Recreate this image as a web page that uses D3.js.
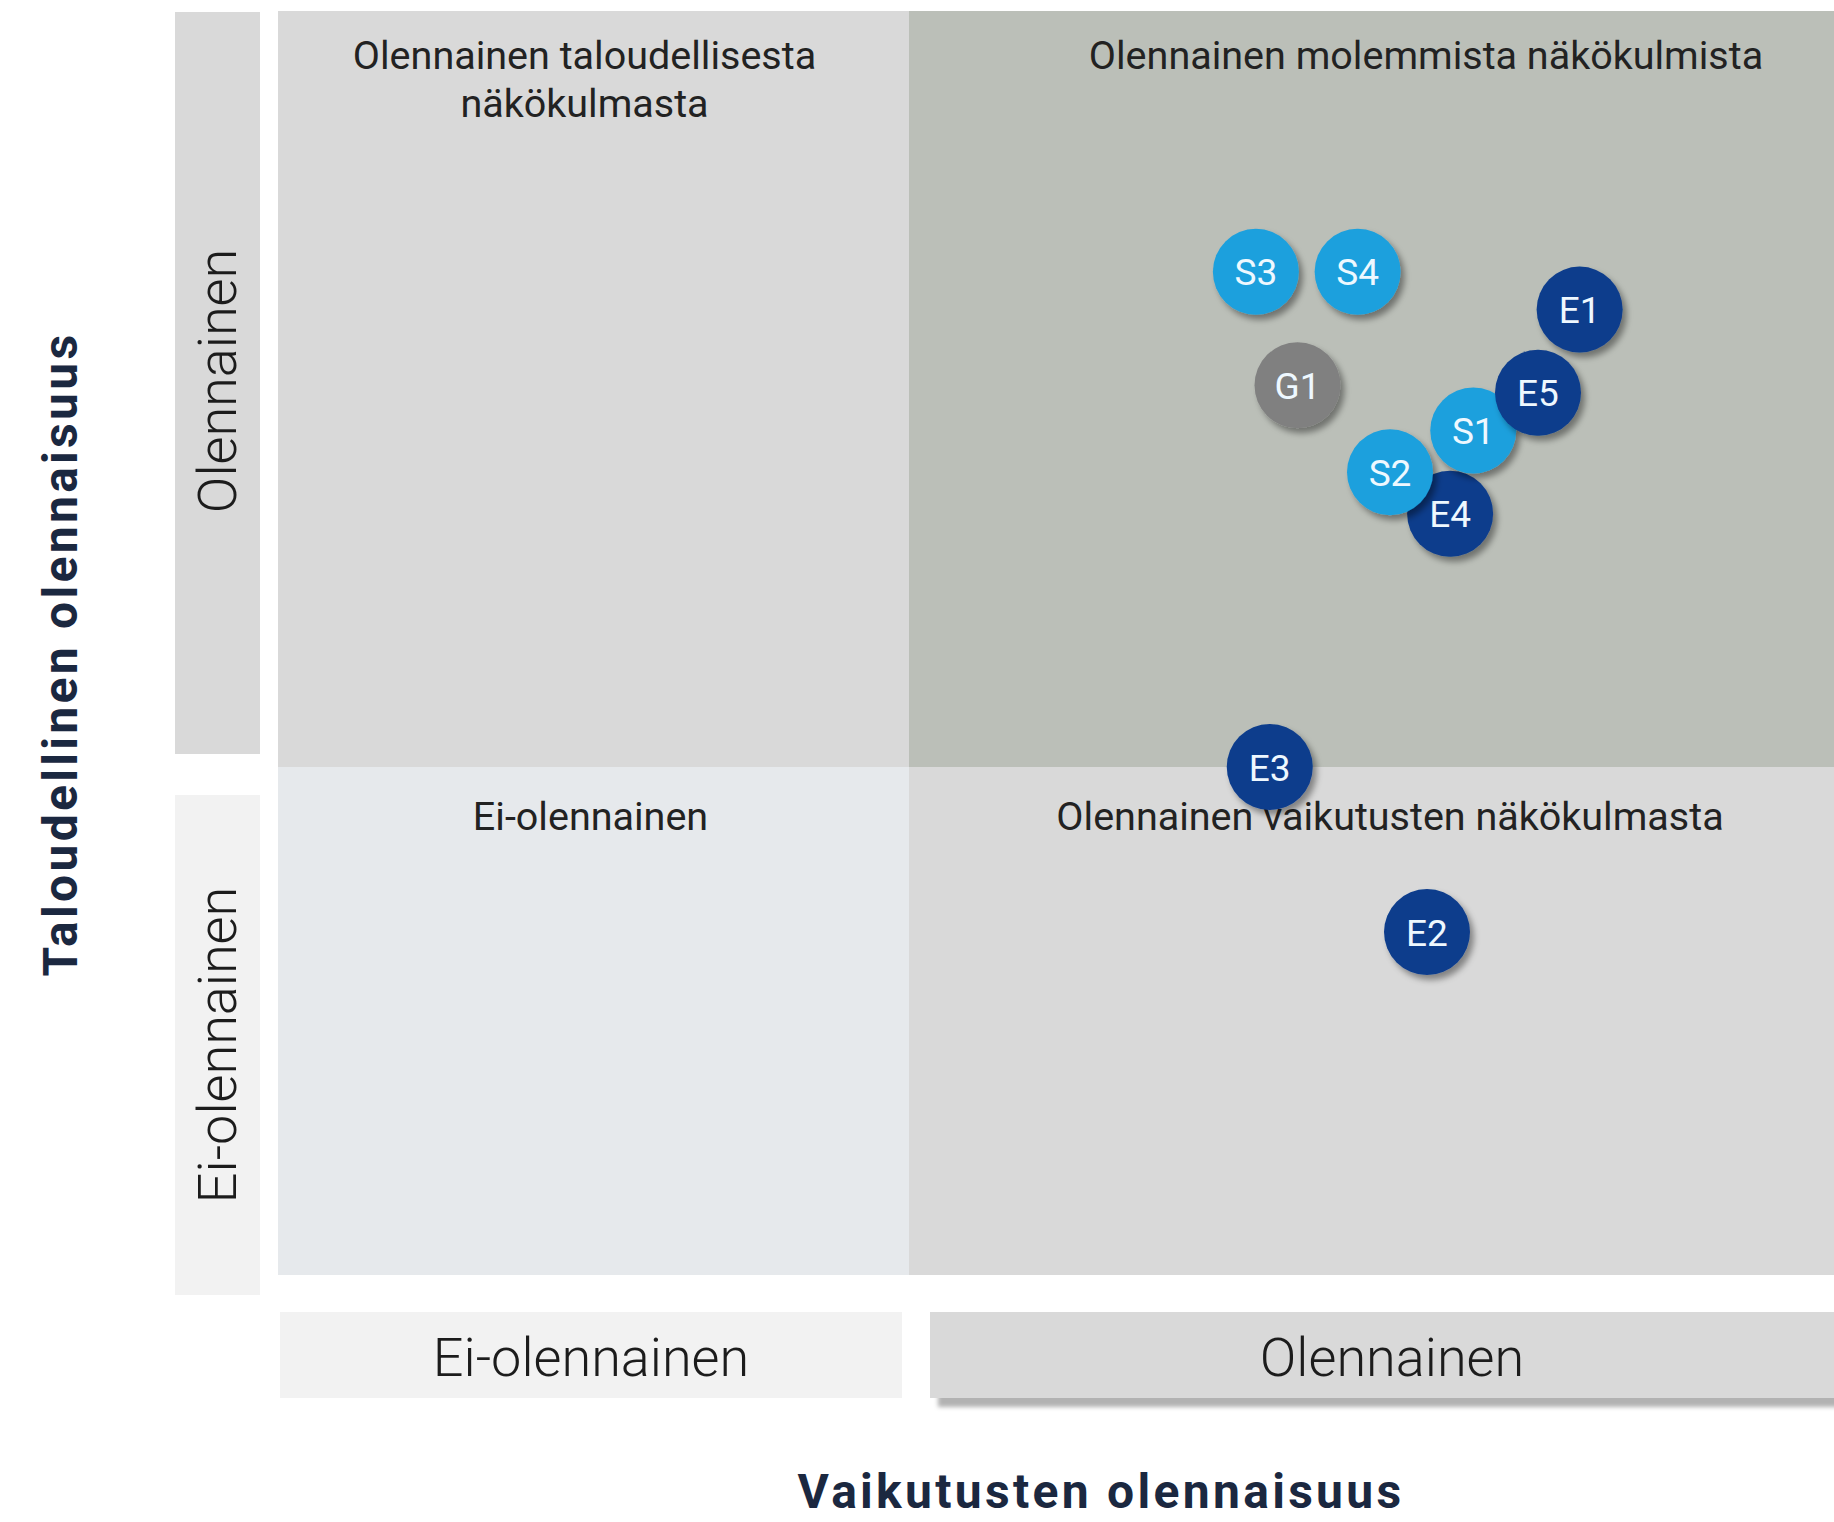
<!DOCTYPE html>
<html lang="fi">
<head>
<meta charset="UTF-8">
<title>Olennaisuusmatriisi</title>
<script src="https://d3js.org/d3.v7.min.js"></script>
<style>
html, body {
  margin: 0;
  padding: 0;
  background-color: white;
}
body {
  font-family: 'Roboto', sans-serif;
}
.quad-label {
  font-size: 39.5px;
  fill: #222;
  text-anchor: middle;
}
.side-label {
  font-size: 54px;
  font-weight: 300;
  fill: #1c1c1c;
  text-anchor: middle;
}
.axis-title {
  font-size: 48px;
  font-weight: bold;
  letter-spacing: 3.3px;
  fill: #1b2840;
  text-anchor: middle;
}
.bubble-label {
  font-size: 37px;
  fill: #eef8ff;
  text-anchor: middle;
  dominant-baseline: central;
}
</style>
</head>
<body>
<div id="chart"></div>

<script>

// --------------------------------------
// Data
// --------------------------------------

// topics, in drawing order (later ones sit on top)
const topics = ["E1", "E2", "E3", "E4", "S1", "E5", "S2", "S3", "S4", "G1"];
// impact materiality score (x)
const impactScores = [4.45, 4.12, 3.78, 4.17, 4.22, 4.36, 4.04, 3.75, 3.97, 3.84];
// financial materiality score (y)
const financialScores = [4.21, 2.35, 3.00, 3.67, 3.89, 3.99, 3.78, 4.31, 4.31, 4.01];
// topic group
const groups = ["E", "E", "E", "E", "S", "E", "S", "S", "S", "G"];

// scale edges: min, threshold, max
const scoreEdges = [1, 3, 5];

const levelLabels = ["Ei-olennainen", "Olennainen"];
const quadrantLabels = {
  topLeft: ["Olennainen taloudellisesta", "näkökulmasta"],
  topRight: ["Olennainen molemmista näkökulmista"],
  bottomLeft: ["Ei-olennainen"],
  bottomRight: ["Olennainen vaikutusten näkökulmasta"]
};
const xTitle = "Vaikutusten olennaisuus";
const yTitle = "Taloudellinen olennaisuus";

const data = topics.map((t, i) => ({
  topic: t,
  impact: impactScores[i],
  financial: financialScores[i],
  group: groups[i]
}));

// --------------------------------------
// Size
// --------------------------------------

let totalWidth = 1834;
let totalHeight = 1522;

let svg = d3.select("#chart")
  .append("svg")
  .attr("width", totalWidth)
  .attr("height", totalHeight);

// --------------------------------------
// Scales
// --------------------------------------

// threshold sits at the middle edge, the two halves are not the same size
let x = d3.scaleLinear()
  .domain(scoreEdges)
  .range([278, 909, 1834]);

let y = d3.scaleLinear()
  .domain(scoreEdges)
  .range([1275, 767, 11]);

let groupColor = d3.scaleOrdinal()
  .domain(["E", "S", "G"])
  .range(["#0b3c8c", "#1ca0dd", "#808080"]);

let r = 43;
let lo = scoreEdges[0], mid = scoreEdges[1], hi = scoreEdges[2];

// --------------------------------------
// Filters
// --------------------------------------

let defs = svg.append("defs");

defs.append("filter")
  .attr("id", "bubble-shadow")
  .attr("x", "-50%").attr("y", "-50%")
  .attr("width", "200%").attr("height", "200%")
  .append("feDropShadow")
  .attr("dx", 4).attr("dy", 5)
  .attr("stdDeviation", 3)
  .attr("flood-color", "#000")
  .attr("flood-opacity", 0.4);

defs.append("filter")
  .attr("id", "box-shadow")
  .attr("x", "-10%").attr("y", "-30%")
  .attr("width", "120%").attr("height", "160%")
  .append("feDropShadow")
  .attr("dx", 8).attr("dy", 9)
  .attr("stdDeviation", 2)
  .attr("flood-color", "#000")
  .attr("flood-opacity", 0.3);

// --------------------------------------
// Quadrants
// --------------------------------------

const quadrants = [
  {x0: lo, x1: mid, y0: mid, y1: hi, fill: "#d9d9d9"},
  {x0: mid, x1: hi, y0: mid, y1: hi, fill: "#bbbfb8"},
  {x0: lo, x1: mid, y0: lo, y1: mid, fill: "#e6e9ec"},
  {x0: mid, x1: hi, y0: lo, y1: mid, fill: "#d9d9d9"}
];

svg.selectAll(".quad")
  .data(quadrants)
  .join("rect")
  .attr("class", "quad")
  .attr("x", d => x(d.x0))
  .attr("y", d => y(d.y1))
  .attr("width", d => x(d.x1) - x(d.x0))
  .attr("height", d => y(d.y0) - y(d.y1))
  .attr("fill", d => d.fill);

// quadrant titles
function quadText(lines, cx, top) {
  let t = svg.append("text")
    .attr("class", "quad-label")
    .attr("x", cx)
    .attr("y", top);
  lines.forEach((l, i) => {
    t.append("tspan")
      .attr("x", cx)
      .attr("dy", i == 0 ? 0 : 48)
      .text(l);
  });
}

quadText(quadrantLabels.topLeft, (x(lo) + x(mid)) / 2 - 9, y(hi) + 58);
quadText(quadrantLabels.topRight, x(mid) + 517, y(hi) + 58);
quadText(quadrantLabels.bottomLeft, (x(lo) + x(mid)) / 2 - 3, y(mid) + 63);
quadText(quadrantLabels.bottomRight, x(mid) + 481, y(mid) + 63);

// --------------------------------------
// Side (y) level boxes
// --------------------------------------

const yBoxes = [
  {label: levelLabels[1], top: y(hi) + 1, bottom: y(mid) - 13, fill: "#d9d9d9"},
  {label: levelLabels[0], top: y(mid) + 28, bottom: y(lo) + 20, fill: "#f2f2f2"}
];

svg.selectAll(".ybox")
  .data(yBoxes)
  .join("rect")
  .attr("class", "ybox")
  .attr("x", 175)
  .attr("y", d => d.top)
  .attr("width", 85)
  .attr("height", d => d.bottom - d.top)
  .attr("fill", d => d.fill);

svg.selectAll(".ybox-label")
  .data(yBoxes)
  .join("text")
  .attr("class", "side-label")
  .attr("transform", (d, i) => `translate(236, ${i == 0 ? 381 : 1045}) rotate(-90)`)
  .text(d => d.label);

// --------------------------------------
// Bottom (x) level boxes
// --------------------------------------

const xBoxes = [
  {label: levelLabels[0], left: x(lo) + 2, right: x(mid) - 7, fill: "#f2f2f2", shadow: false},
  {label: levelLabels[1], left: x(mid) + 21, right: totalWidth + 20, fill: "#d9d9d9", shadow: true}
];

svg.selectAll(".xbox")
  .data(xBoxes)
  .join("rect")
  .attr("class", "xbox")
  .attr("x", d => d.left)
  .attr("y", 1312)
  .attr("width", d => d.right - d.left)
  .attr("height", 86)
  .attr("fill", d => d.fill)
  .attr("filter", d => d.shadow ? "url(#box-shadow)" : null);

svg.selectAll(".xbox-label")
  .data(xBoxes)
  .join("text")
  .attr("class", "side-label")
  .attr("x", (d, i) => i == 0 ? 591 : 1392)
  .attr("y", 1376)
  .text(d => d.label);

// --------------------------------------
// Axis titles
// --------------------------------------

svg.append("text")
  .attr("class", "axis-title")
  .attr("transform", "translate(77, 654) rotate(-90)")
  .text(yTitle);

svg.append("text")
  .attr("class", "axis-title")
  .attr("x", 1101)
  .attr("y", 1508)
  .text(xTitle);

// --------------------------------------
// Bubbles
// --------------------------------------

let bubbles = svg.selectAll(".bubble")
  .data(data)
  .join("g")
  .attr("class", "bubble")
  .attr("transform", d => `translate(${x(d.impact)}, ${y(d.financial)})`);

bubbles.append("circle")
  .attr("r", r)
  .attr("fill", d => groupColor(d.group))
  .attr("filter", "url(#bubble-shadow)");

bubbles.append("text")
  .attr("class", "bubble-label")
  .attr("y", 1)
  .text(d => d.topic);

</script>
</body>
</html>
